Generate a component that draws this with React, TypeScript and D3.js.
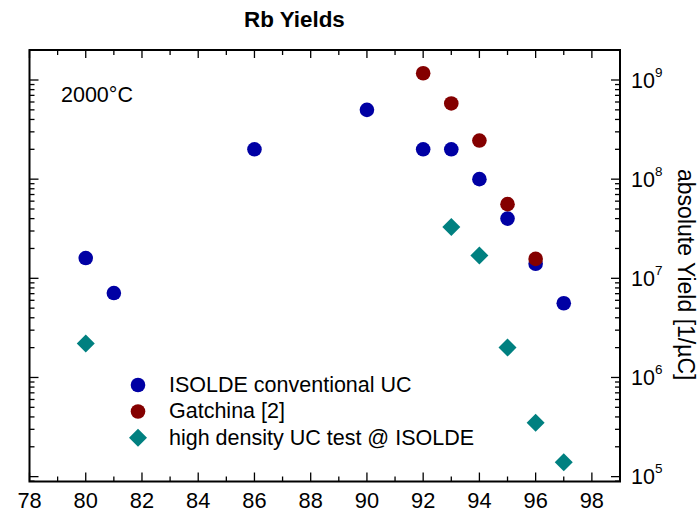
import React from "react";
import * as d3 from "d3";

// Mass number A and absolute yield [1/µC]
const isoldeA = [80, 81, 86, 90, 92, 93, 94, 95, 96, 97];
const isoldeY = [1.6e7, 7.1e6, 2.0e8, 5.0e8, 2.0e8, 2.0e8, 1.0e8, 4.0e7, 1.4e7, 5.6e6];
const gatchinaA = [92, 93, 94, 95, 96];
const gatchinaY = [1.17e9, 5.8e8, 2.45e8, 5.6e7, 1.57e7];
const hdA = [80, 93, 94, 95, 96, 97];
const hdY = [2.2e6, 3.3e7, 1.7e7, 2.0e6, 3.5e5, 1.4e5];

const xMajorTicks = [78, 80, 82, 84, 86, 88, 90, 92, 94, 96, 98];
const xMinorTicks = [79, 81, 83, 85, 87, 89, 91, 93, 95, 97];
const yDecades = [5, 6, 7, 8, 9];
const legendLabels = ["ISOLDE conventional UC", "Gatchina [2]", "high density UC test @ ISOLDE"];
const titleText = "Rb Yields";
const annotation = "2000°C";
const yLabel = "absolute Yield [1/µC]";

const BLUE = "#0000a4";
const RED = "#840000";
const TEAL = "#008080";
const FONT = "'Liberation Sans', Arial, Helvetica, sans-serif";

export default function App() {
  const W = 700, H = 512;
  const L = 29.5, R = 620, T = 50, B = 481.5;
  const x = d3.scaleLinear().domain([78, 99]).range([L, R]);
  const y = d3.scaleLog().domain([8.93e4, 2.007e9]).range([B, T]);

  const minorY: number[] = [];
  for (let e = 4; e <= 9; e++) {
    for (let m = 2; m <= 9; m++) {
      const v = m * Math.pow(10, e);
      if (v > 8.93e4 && v < 2.007e9) minorY.push(v);
    }
  }

  const diamond = (cx: number, cy: number, r: number) =>
    `M${cx},${cy - r}L${cx + r},${cy}L${cx},${cy + r}L${cx - r},${cy}Z`;

  const tickStroke = 1.3;
  return (
    <svg width={W} height={H} style={{ position: "absolute", left: 0, top: 0, background: "#fff" }} fontFamily={FONT}>
      <rect x={0} y={0} width={W} height={H} fill="#fff" />
      <text x={244} y={26.7} fontSize={22.4} fontWeight="bold" fill="#000">{titleText}</text>

      {/* x ticks */}
      {xMajorTicks.map((t) => (
        <g key={"xm" + t}>
          <line x1={x(t)} x2={x(t)} y1={B} y2={B - 9} stroke="#000" strokeWidth={tickStroke} />
          <line x1={x(t)} x2={x(t)} y1={T} y2={T + 8} stroke="#000" strokeWidth={tickStroke} />
          <text x={x(t)} y={508.3} fontSize={21.8} textAnchor="middle" fill="#000">{t}</text>
        </g>
      ))}
      {xMinorTicks.map((t) => (
        <g key={"xn" + t}>
          <line x1={x(t)} x2={x(t)} y1={B} y2={B - 5} stroke="#000" strokeWidth={tickStroke} />
          <line x1={x(t)} x2={x(t)} y1={T} y2={T + 5} stroke="#000" strokeWidth={tickStroke} />
        </g>
      ))}

      {/* y ticks */}
      {yDecades.map((e) => {
        const yy = y(Math.pow(10, e));
        return (
          <g key={"yd" + e}>
            <line x1={L} x2={L + 9} y1={yy} y2={yy} stroke="#000" strokeWidth={tickStroke} />
            <line x1={R} x2={R - 9} y1={yy} y2={yy} stroke="#000" strokeWidth={tickStroke} />
            <text x={631} y={yy + 7.7} fontSize={21.5} fill="#000">
              10
              <tspan fontSize={13.5} dy={-11}>{e}</tspan>
            </text>
          </g>
        );
      })}
      {minorY.map((v) => (
        <g key={"yn" + v}>
          <line x1={L} x2={L + 5} y1={y(v)} y2={y(v)} stroke="#000" strokeWidth={tickStroke} />
          <line x1={R} x2={R - 5} y1={y(v)} y2={y(v)} stroke="#000" strokeWidth={tickStroke} />
        </g>
      ))}

      {/* frame */}
      <rect x={L} y={T} width={R - L} height={B - T} fill="none" stroke="#000" strokeWidth={2} />

      <text x={61} y={101.7} fontSize={21.5} fill="#000">{annotation}</text>

      {/* data */}
      {hdA.map((a, i) => (
        <path key={"hd" + i} d={diamond(x(a), y(hdY[i]), 9)} fill={TEAL} />
      ))}
      {isoldeA.map((a, i) => (
        <circle key={"is" + i} cx={x(a)} cy={y(isoldeY[i])} r={7.3} fill={BLUE} />
      ))}
      {gatchinaA.map((a, i) => (
        <circle key={"ga" + i} cx={x(a)} cy={y(gatchinaY[i])} r={7.3} fill={RED} />
      ))}

      {/* legend */}
      <circle cx={138} cy={385} r={7.3} fill={BLUE} />
      <circle cx={138} cy={411.5} r={7.3} fill={RED} />
      <path d={diamond(138, 437.7, 9)} fill={TEAL} />
      {legendLabels.map((l, i) => (
        <text key={l} x={169} y={392 + i * 26.3} fontSize={21.5} fill="#000">{l}</text>
      ))}

      {/* y label */}
      <text transform={`translate(678,${(T + B) / 2 + 9}) rotate(90)`} fontSize={23} textAnchor="middle" fill="#000">
        {yLabel}
      </text>
    </svg>
  );
}
